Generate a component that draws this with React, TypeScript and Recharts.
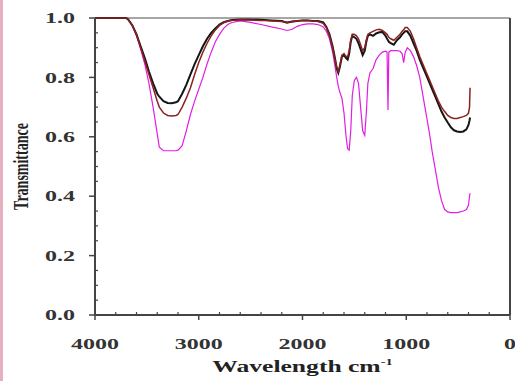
import { LineChart, Line, XAxis, YAxis, ReferenceLine, Label } from 'recharts'

// wavenumber (cm-1) and transmittance of the three spectra
const wavenumbers = [
  4000, 3800, 3700, 3680, 3640, 3600, 3560, 3520, 3480, 3440,
  3400, 3380, 3340, 3300, 3260, 3220, 3200, 3160, 3120, 3080,
  3040, 3000, 2960, 2920, 2880, 2840, 2800, 2760, 2720, 2680,
  2600, 2500, 2400, 2300, 2200, 2150, 2100, 2050, 2000, 1950,
  1900, 1850, 1800, 1770, 1740, 1710, 1690, 1670, 1655, 1640,
  1620, 1600, 1580, 1565, 1550, 1535, 1520, 1500, 1480, 1460,
  1440, 1420, 1400, 1385, 1370, 1350, 1320, 1290, 1260, 1230,
  1200, 1185, 1176, 1168, 1150, 1120, 1090, 1060, 1040, 1025,
  1010, 990, 960, 930, 900, 870, 840, 810, 780, 750,
  720, 690, 660, 630, 600, 570, 540, 510, 480, 450,
  420, 400, 390, 385,
]

const blackT = [
  1, 1, 1, 0.995, 0.975, 0.945, 0.905, 0.865, 0.82, 0.78,
  0.745, 0.735, 0.72, 0.714, 0.713, 0.716, 0.72, 0.745, 0.775, 0.81,
  0.845, 0.875, 0.905, 0.93, 0.95, 0.965, 0.978, 0.986, 0.99, 0.993,
  0.995, 0.995, 0.994, 0.992, 0.99, 0.984, 0.988, 0.99, 0.992, 0.992,
  0.99, 0.99, 0.985, 0.97, 0.945, 0.905, 0.87, 0.83, 0.815, 0.835,
  0.87, 0.875, 0.865, 0.86, 0.88, 0.92, 0.94, 0.935, 0.93, 0.915,
  0.895, 0.875, 0.89, 0.92, 0.94, 0.945, 0.94, 0.948, 0.952, 0.953,
  0.94, 0.93, 0.925, 0.92, 0.915, 0.91, 0.925, 0.935, 0.945, 0.95,
  0.955, 0.955, 0.94, 0.915, 0.89, 0.86, 0.835, 0.81, 0.785, 0.76,
  0.735, 0.71, 0.685, 0.665, 0.648, 0.632, 0.622, 0.618, 0.616, 0.618,
  0.625, 0.64, 0.655, 0.665,
]

const brownT = [
  1, 1, 1, 0.995, 0.975, 0.945, 0.9, 0.855, 0.81, 0.765,
  0.72, 0.7, 0.68, 0.672, 0.67, 0.672, 0.675, 0.7, 0.73, 0.765,
  0.81, 0.85, 0.885, 0.915, 0.94, 0.96, 0.975, 0.984, 0.99, 0.992,
  0.994, 0.993, 0.992, 0.99, 0.988, 0.986, 0.987, 0.99, 0.992, 0.992,
  0.99, 0.988, 0.982, 0.968, 0.94, 0.9, 0.865, 0.835, 0.82, 0.84,
  0.875, 0.88, 0.87, 0.87, 0.89, 0.925, 0.945, 0.945, 0.94, 0.93,
  0.91, 0.89, 0.9, 0.925, 0.945, 0.95, 0.955, 0.96, 0.962, 0.958,
  0.95, 0.945, 0.94, 0.935, 0.93, 0.925, 0.935, 0.945, 0.955, 0.96,
  0.968, 0.968, 0.955, 0.93, 0.9, 0.87, 0.845, 0.82, 0.795, 0.77,
  0.745, 0.72, 0.7, 0.685, 0.672, 0.665, 0.662, 0.662, 0.665, 0.668,
  0.672, 0.68, 0.7, 0.765,
]

const magentaT = [
  1, 1, 1, 0.995, 0.975, 0.94, 0.895, 0.845, 0.78, 0.7,
  0.61, 0.565, 0.553, 0.553, 0.553, 0.553, 0.555, 0.57, 0.62, 0.675,
  0.72, 0.76, 0.8, 0.845, 0.885, 0.92, 0.945, 0.965, 0.978, 0.985,
  0.99, 0.985, 0.978, 0.97, 0.963, 0.958, 0.962, 0.972, 0.978, 0.98,
  0.98, 0.978, 0.97, 0.955, 0.93, 0.885, 0.845, 0.8, 0.77, 0.75,
  0.73, 0.68, 0.6, 0.56, 0.555, 0.62, 0.74, 0.79, 0.8, 0.78,
  0.7, 0.62, 0.605, 0.68, 0.78, 0.815, 0.83, 0.86, 0.875, 0.885,
  0.888, 0.885, 0.69, 0.885, 0.89, 0.89, 0.89, 0.888, 0.88, 0.85,
  0.885, 0.9, 0.89, 0.87, 0.84, 0.8, 0.74, 0.68, 0.62, 0.55,
  0.49, 0.43, 0.385, 0.355, 0.347, 0.345, 0.345, 0.345, 0.347, 0.35,
  0.355, 0.37, 0.4, 0.41,
]

const xTicks = [
  4000, 3800, 3600, 3400, 3200, 3000, 2800, 2600, 2400, 2200, 2000,
  1800, 1600, 1400, 1200, 1000, 800, 600, 400, 200, 0,
]
const yTicks = [
  0, 0.05, 0.1, 0.15, 0.2, 0.25, 0.3, 0.35, 0.4, 0.45, 0.5,
  0.55, 0.6, 0.65, 0.7, 0.75, 0.8, 0.85, 0.9, 0.95, 1,
]

const W = 515
const H = 381
const X_AXIS_H = 66
const Y_AXIS_W = 95
const TOP = 18
const font = '"Liberation Serif", "Times New Roman", serif'
const axisColor = '#444'

const data = wavenumbers.map((w, i) => ({
  w,
  black: blackT[i],
  brown: brownT[i],
  magenta: magentaT[i],
}))

function XTick(props: any) {
  const { x, payload } = props
  const v = payload.value as number
  const axisY = H - X_AXIS_H
  const major = v % 1000 === 0
  return (
    <g>
      {major ? (
        <>
          <line x1={x} x2={x} y1={axisY} y2={axisY + 5} stroke={axisColor} strokeWidth={1.5} />
          <text
            transform={`translate(${x},${axisY + 29}) scale(1.6,1)`}
            textAnchor="middle"
            dy="0.35em"
            fontFamily={font}
            fontWeight="bold"
            fontSize={15}
            fill="#333"
          >
            {v}
          </text>
        </>
      ) : (
        <line x1={x} x2={x} y1={axisY} y2={axisY - 3} stroke={axisColor} strokeWidth={1.2} />
      )}
    </g>
  )
}

function YTick(props: any) {
  const { y, payload } = props
  const v = payload.value as number
  const axisX = Y_AXIS_W
  const major = Math.abs(v * 5 - Math.round(v * 5)) < 1e-6
  return (
    <g>
      {major ? (
        <>
          <line x1={axisX - 6} x2={axisX} y1={y} y2={y} stroke={axisColor} strokeWidth={1.5} />
          <text
            transform={`translate(${axisX - 20},${y}) scale(1.6,1)`}
            textAnchor="end"
            dy="0.35em"
            fontFamily={font}
            fontWeight="bold"
            fontSize={15}
            fill="#333"
          >
            {v.toFixed(1)}
          </text>
        </>
      ) : (
        <line x1={axisX} x2={axisX + 3} y1={y} y2={y} stroke={axisColor} strokeWidth={1.2} />
      )}
    </g>
  )
}

export default function App() {
  const plotMidX = (Y_AXIS_W + W - 5) / 2
  const plotMidY = (TOP + H - X_AXIS_H) / 2
  return (
    <div style={{ position: 'absolute', left: 0, top: 0, width: W, height: H, background: '#fff' }}>
      <div style={{ position: 'absolute', left: 0, top: 0, width: 3, height: H, background: '#e6b0c0' }} />
      <LineChart width={W} height={H} data={data} margin={{ top: TOP, right: 5, left: 0, bottom: 0 }}>
        <XAxis
          dataKey="w"
          type="number"
          domain={[0, 4000]}
          reversed
          ticks={xTicks}
          interval={0}
          tickLine={false}
          tick={<XTick />}
          height={X_AXIS_H}
          axisLine={{ stroke: axisColor, strokeWidth: 2 }}
        >
          <Label
            content={() => (
              <text
                transform={`translate(${plotMidX},${H - 9}) scale(1.6,1)`}
                textAnchor="middle"
                fontFamily={font}
                fontWeight="bold"
                fontSize={16}
                fill="#222"
              >
                Wavelength cm<tspan dy={-7} fontSize={9}>-1</tspan>
              </text>
            )}
          />
        </XAxis>
        <YAxis
          type="number"
          domain={[0, 1]}
          ticks={yTicks}
          interval={0}
          tickLine={false}
          tick={<YTick />}
          width={Y_AXIS_W}
          axisLine={{ stroke: axisColor, strokeWidth: 2 }}
        >
          <Label
            content={() => (
              <text
                transform={`translate(21,${plotMidY}) scale(1.5,1) rotate(-90)`}
                textAnchor="middle"
                dy="0.35em"
                fontFamily={font}
                fontWeight="bold"
                fontSize={14}
                fill="#222"
              >
                Transmittance
              </text>
            )}
          />
        </YAxis>
        <ReferenceLine y={1} stroke="#888" strokeWidth={1.5} />
        <ReferenceLine x={0} stroke={axisColor} strokeWidth={2} />
        <Line dataKey="magenta" stroke="#e21ee2" strokeWidth={1.2} dot={false} isAnimationActive={false} />
        <Line dataKey="black" stroke="#151515" strokeWidth={2} dot={false} isAnimationActive={false} />
        <Line dataKey="brown" stroke="#8a2222" strokeWidth={1.5} dot={false} isAnimationActive={false} />
      </LineChart>
    </div>
  )
}
